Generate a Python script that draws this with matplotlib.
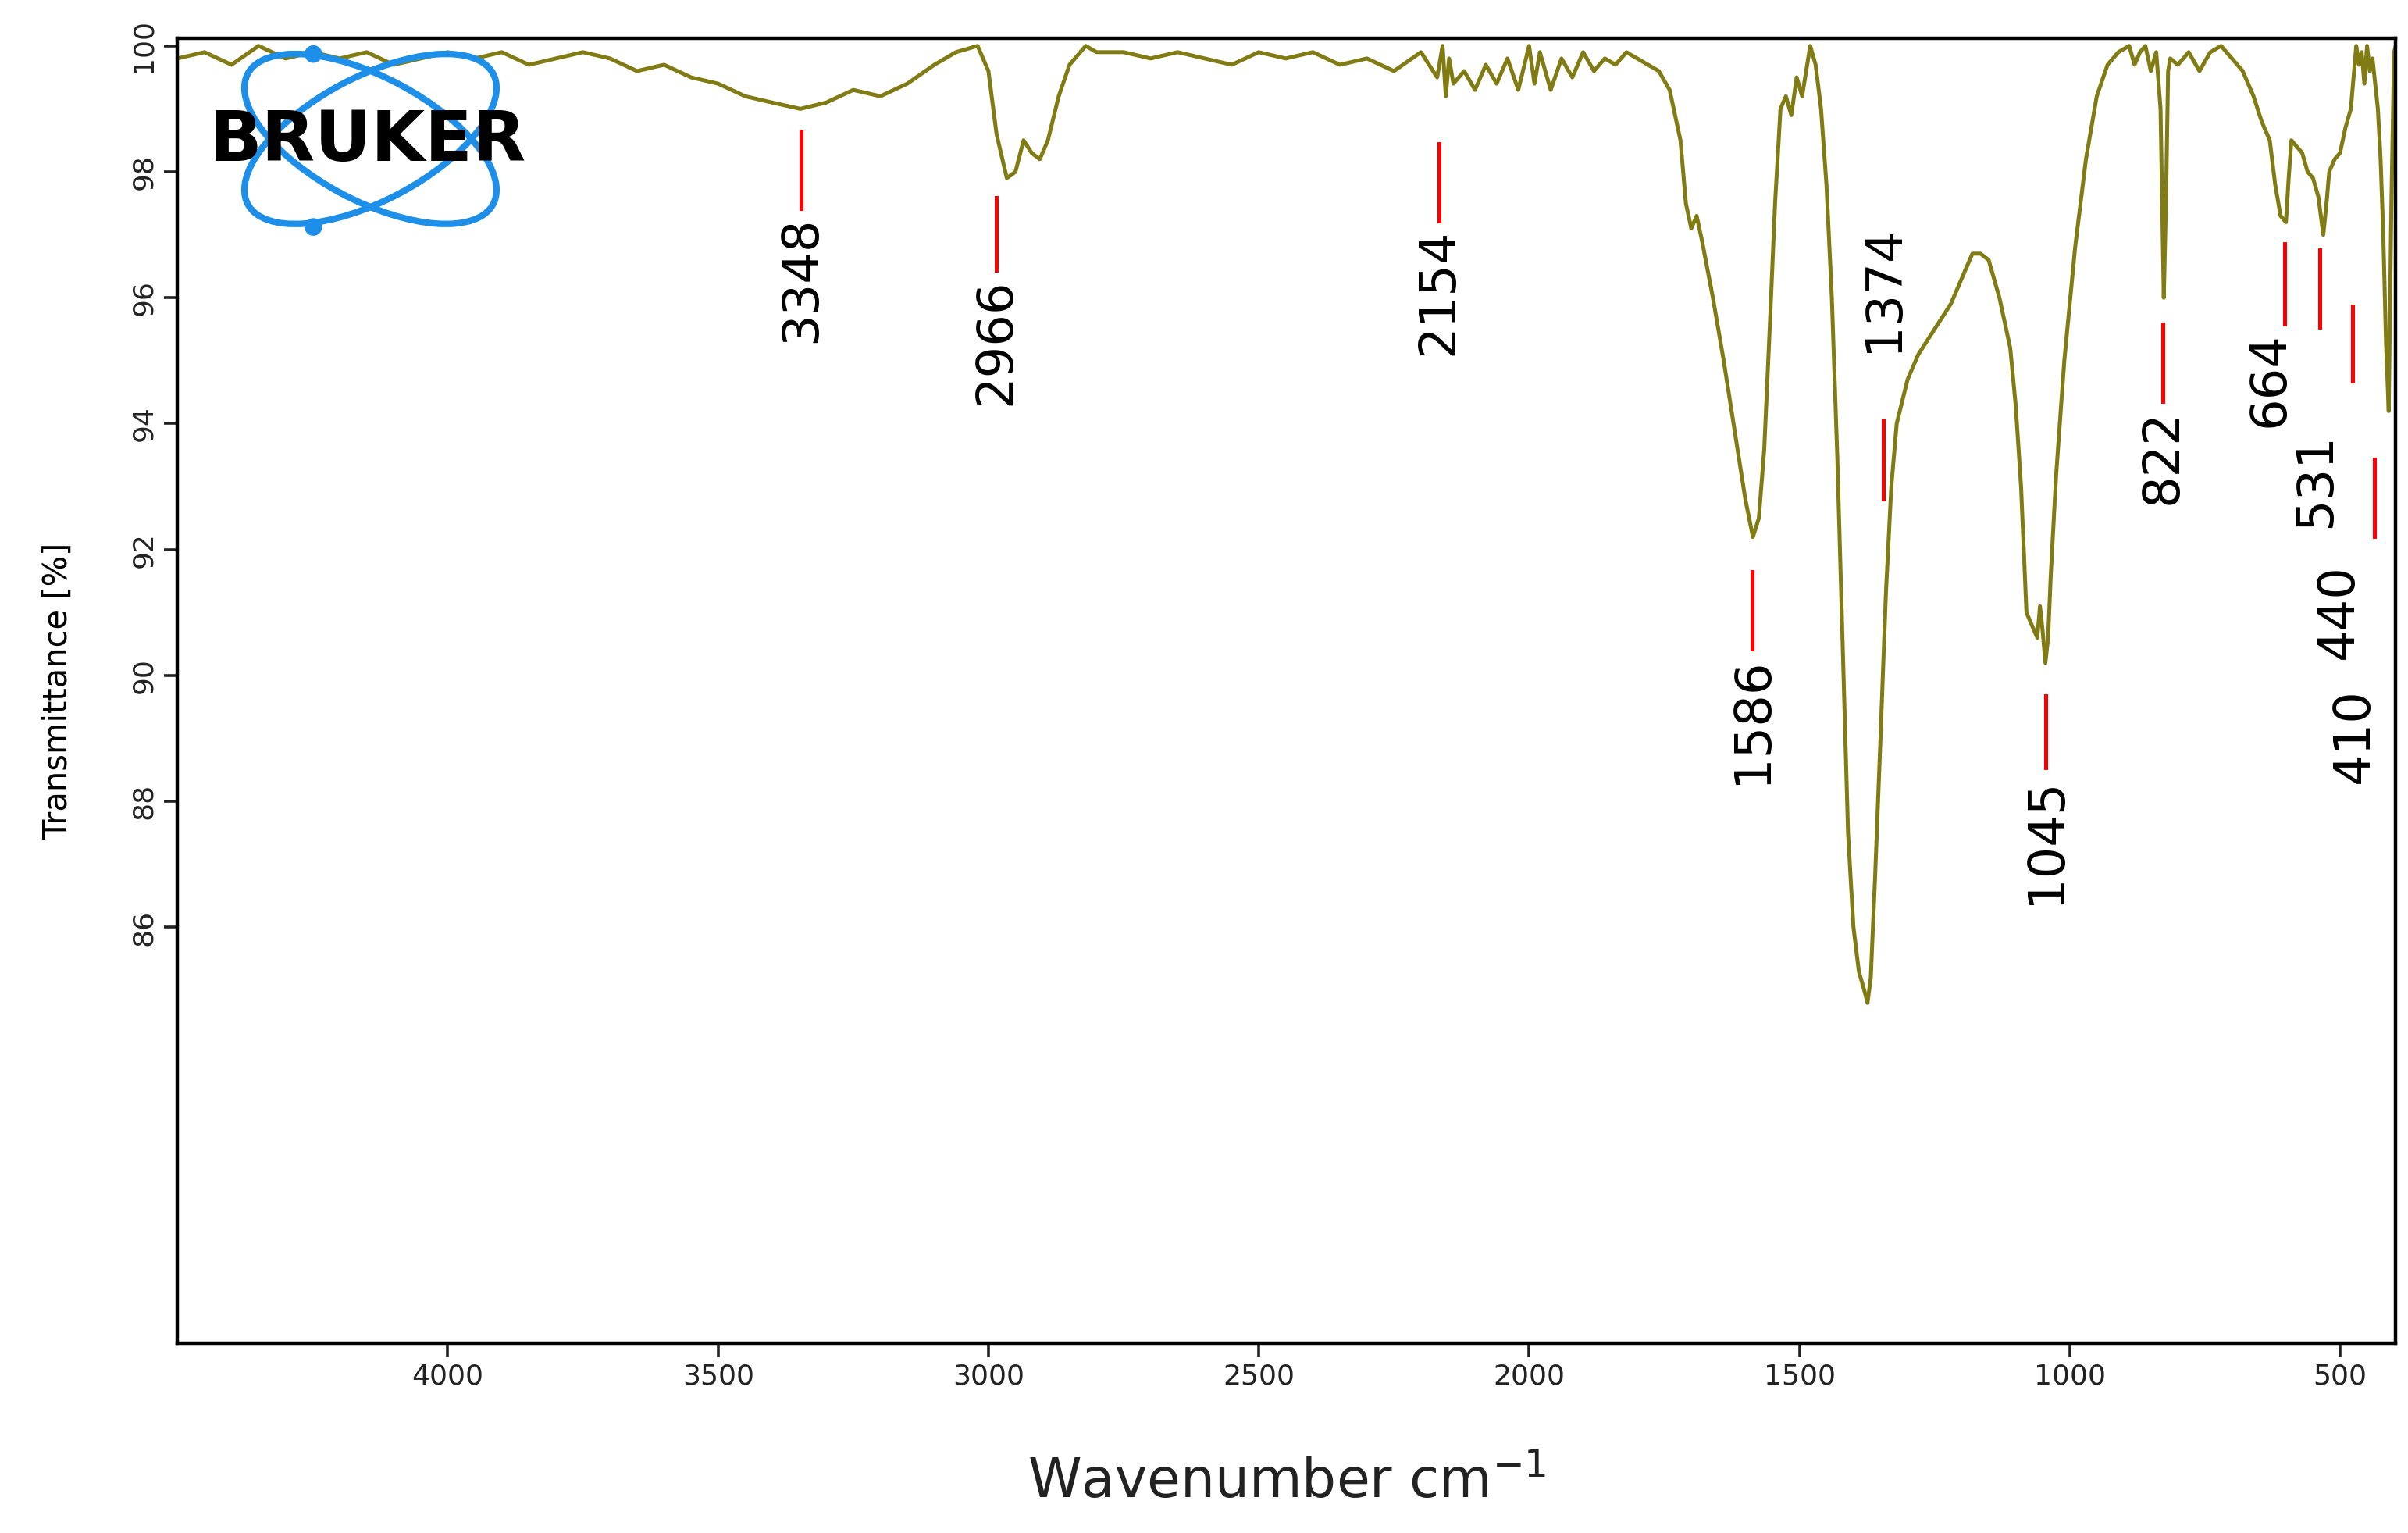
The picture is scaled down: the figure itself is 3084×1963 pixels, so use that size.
import matplotlib
matplotlib.use("Agg")
import matplotlib.pyplot as plt
from matplotlib.patches import Ellipse, Circle

spectrum = [(4500,99.8),(4450,99.9),(4400,99.7),(4350,100),(4300,99.8),(4250,99.9),(4200,99.8),(4150,99.9),(4100,99.7),(4050,99.8),
(4000,99.9),(3950,99.8),(3900,99.9),(3850,99.7),(3800,99.8),(3750,99.9),(3700,99.8),(3650,99.6),(3600,99.7),(3550,99.5),
(3500,99.4),(3450,99.2),(3400,99.1),(3348,99.0),(3300,99.1),(3250,99.3),(3200,99.2),(3150,99.4),(3100,99.7),(3060,99.9),
(3040,99.95),(3020,100),(3000,99.6),(2985,98.6),(2966,97.9),(2950,98.0),(2935,98.5),(2920,98.3),(2905,98.2),(2890,98.5),
(2870,99.2),(2850,99.7),(2820,100),(2800,99.9),(2750,99.9),(2700,99.8),(2650,99.9),(2600,99.8),(2550,99.7),(2500,99.9),
(2450,99.8),(2400,99.9),(2350,99.7),(2300,99.8),(2250,99.6),(2200,99.9),(2170,99.5),(2160,100),(2154,99.2),(2148,99.8),
(2140,99.4),(2120,99.6),(2100,99.3),(2080,99.7),(2060,99.4),(2040,99.8),(2020,99.3),(2000,100),(1990,99.4),(1980,99.9),
(1960,99.3),(1940,99.8),(1920,99.5),(1900,99.9),(1880,99.6),(1860,99.8),(1840,99.7),(1820,99.9),(1800,99.8),(1780,99.7),
(1760,99.6),(1740,99.3),(1720,98.5),(1710,97.5),(1700,97.1),(1690,97.3),(1680,96.9),(1660,96.0),(1640,95.0),(1620,93.9),
(1600,92.8),(1586,92.2),(1575,92.5),(1565,93.6),(1555,95.5),(1545,97.5),(1535,99.0),(1525,99.2),(1515,98.9),(1505,99.5),
(1495,99.2),(1480,100),(1470,99.7),(1460,99.0),(1450,97.8),(1440,96.0),(1430,93.5),(1420,90.5),(1410,87.5),(1400,86.0),
(1390,85.3),(1380,85.0),(1374,84.8),(1368,85.2),(1360,86.8),(1350,89.0),(1340,91.3),(1330,93.0),(1320,94.0),(1300,94.7),
(1280,95.1),(1250,95.5),(1220,95.9),(1200,96.3),(1180,96.7),(1165,96.7),(1150,96.6),(1130,96.0),(1110,95.2),(1100,94.3),
(1090,93.0),(1080,91.0),(1070,90.8),(1060,90.6),(1055,91.1),(1050,90.7),(1045,90.2),(1040,90.6),(1035,91.6),(1025,93.2),
(1010,95.0),(990,96.8),(970,98.2),(950,99.2),(930,99.7),(910,99.9),(890,100),(880,99.7),(870,99.9),(860,100),
(850,99.6),(840,99.9),(832,99.0),(826,96.0),(822,97.5),(818,99.6),(814,99.8),(800,99.7),(780,99.9),(760,99.6),
(740,99.9),(720,100),(700,99.8),(680,99.6),(660,99.2),(645,98.8),(630,98.5),(620,97.8),(610,97.3),(600,97.2),
(595,97.9),(590,98.5),(580,98.4),(570,98.3),(560,98.0),(550,97.9),(540,97.6),(531,97.0),(525,97.5),(520,98.0),
(510,98.2),(500,98.3),(490,98.7),(480,99.0),(475,99.5),(470,100),(465,99.7),(460,99.9),(455,99.4),(450,100),
(445,99.6),(440,99.8),(430,99.0),(425,98.2),(420,97.0),(415,95.3),(410,94.2),(405,97.5),(400,99.9),(397,100)]
wavenumber = [p[0] for p in spectrum]
transmittance = [p[1] for p in spectrum]

peak_labels = ["3348","2966","2154","1586","1374","1045","822","664","531","440","410"]
line_x = [3346,2986,2167,1588,1345,1045,828,603,537,477,437]
line_top = [98.65,97.59,98.45,91.65,94.05,89.68,95.58,96.86,96.76,95.87,93.44]
line_bottom = [97.42,96.44,97.22,90.42,92.80,88.53,94.35,95.58,95.53,94.67,92.21]
text_x = [3346,2986,2167,1588,1345,1045,828,631,545,503,474]
text_y = [97.30,96.31,97.10,90.29,95.14,88.38,94.23,95.45,93.86,91.77,89.80]
text_va = ["top","top","top","top","bottom","top","top","top","top","top","top"]
yticks = [86,88,90,92,94,96,98,100]
xticks = [4000,3500,3000,2500,2000,1500,1000,500]

W, H = 1560.0, 993.0
fig = plt.figure(figsize=(15.42, 9.815), dpi=200)
ax = fig.add_axes([0.0737, 0.124, 0.9212, 0.851])
ax.plot(wavenumber, transmittance, color="#807b12", lw=1.8)
ax.set_xlim(4500, 397)
ax.set_ylim(79.4, 100.12)
ax.set_yticks(yticks)
ax.set_xticks(xticks)
ax.tick_params(labelsize=13, direction="out", length=6, width=1.3, colors="#222222")
for lbl in ax.get_yticklabels():
    lbl.set_rotation(90); lbl.set_va("center")
for s in ax.spines.values():
    s.set_linewidth(1.6)
ax.set_ylabel("Transmittance [%]", fontsize=15, labelpad=26)
ax.set_xlabel("Wavenumber cm$^{-1}$", fontsize=25, color="#222222", labelpad=30)

for i, name in enumerate(peak_labels):
    ax.plot([line_x[i], line_x[i]], [line_bottom[i], line_top[i]], color="red", lw=1.8)
    ax.text(text_x[i], text_y[i], name, rotation=90, ha="center", va=text_va[i],
            fontsize=23, color="black")

# Bruker logo in a pixel-based inset
x0, x1, y0, y1 = 110, 370, 15, 165
lax = fig.add_axes([x0 / W, 1 - y1 / H, (x1 - x0) / W, (y1 - y0) / H])
lax.set_xlim(x0, x1); lax.set_ylim(y1, y0); lax.axis("off")
for ang in (28, -28):
    lax.add_patch(Ellipse((240, 90), 180, 80, angle=ang, fill=False, ec="#1e8fe8", lw=3))
for (cx, cy) in [(203, 35), (203, 147)]:
    lax.add_patch(Circle((cx, cy), 5, color="#1e8fe8"))
lax.text(238, 92, "BRUKER", ha="center", va="center", fontsize=32,
         fontweight="black", color="black", family="DejaVu Sans")

fig.savefig("out.png", dpi=200)
